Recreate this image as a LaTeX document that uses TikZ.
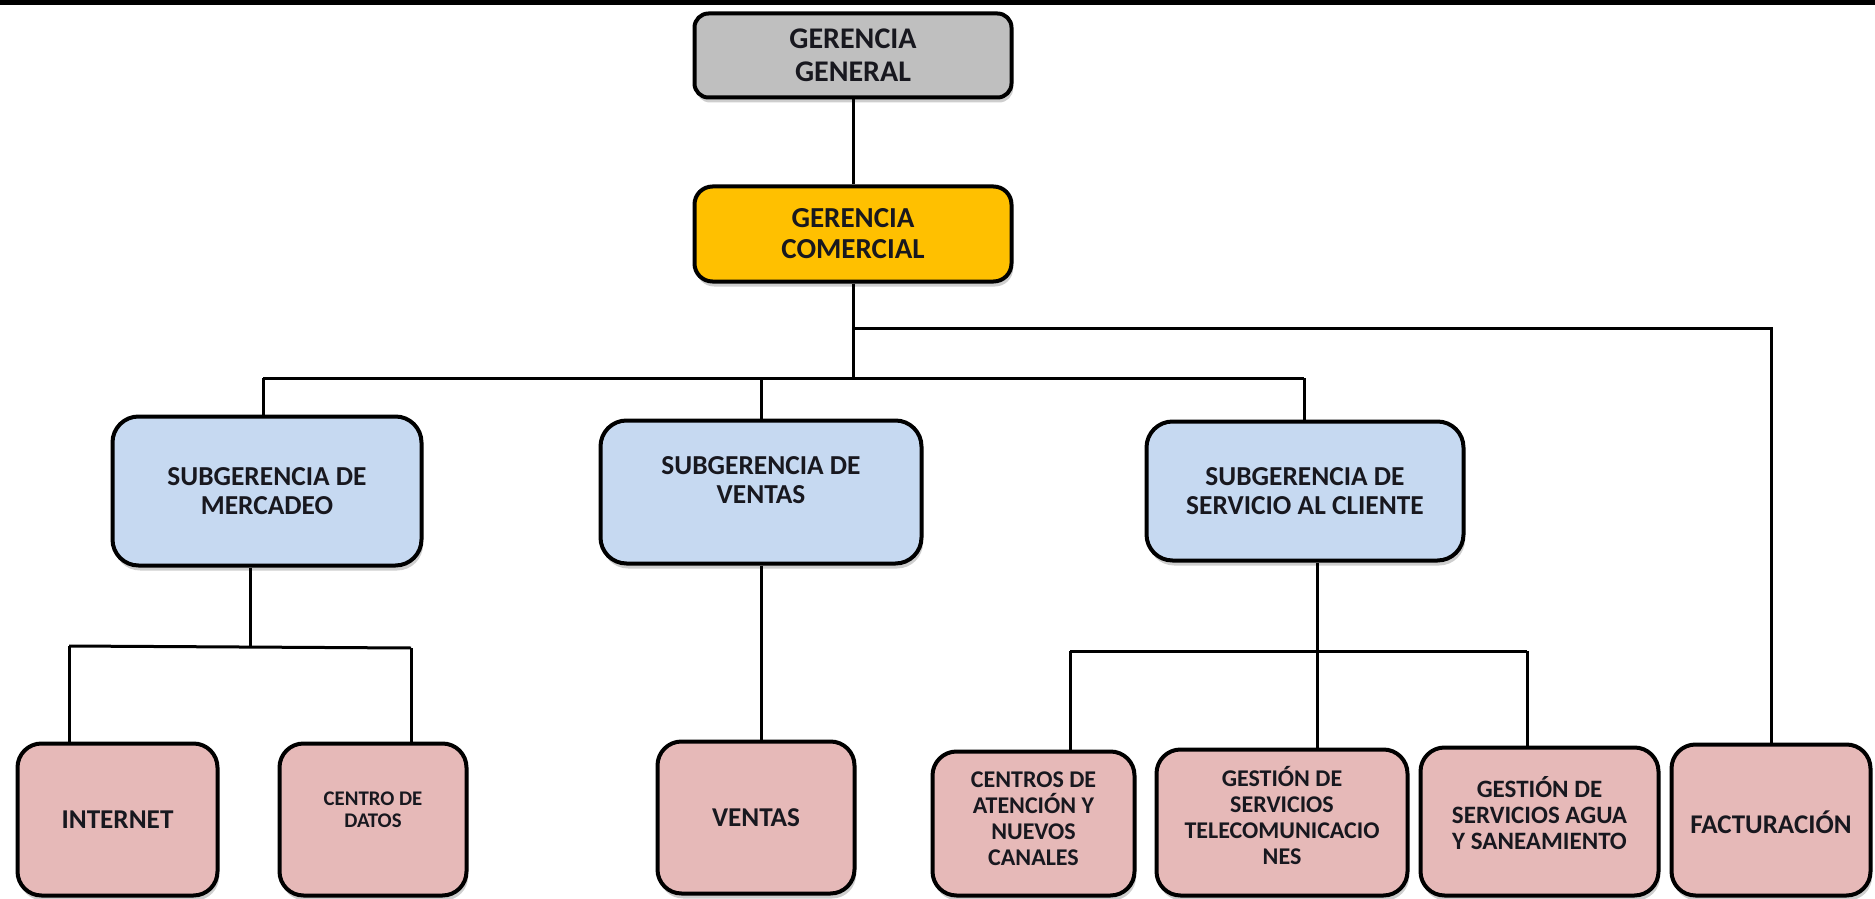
\documentclass[tikz,border=0pt]{standalone}
\usepackage{fontspec}
\setmainfont{Carlito}
\usetikzlibrary{shadows}
\definecolor{ggray}{HTML}{BFBFBF}
\definecolor{gyellow}{HTML}{FFC000}
\definecolor{gblue}{HTML}{C6D9F1}
\definecolor{gpink}{HTML}{E6B9B8}
\definecolor{ink}{HTML}{18181F}
\newcommand\fGG{\bfseries\fontsize{15}{16.5}\selectfont}
\newcommand\fGC{\bfseries\fontsize{14.5}{15.5}\selectfont}
\newcommand\fSub{\bfseries\fontsize{13.7}{14.8}\selectfont}
\newcommand\fBig{\bfseries\fontsize{13.6}{14}\selectfont}
\newcommand\fMid{\bfseries\fontsize{12}{13}\selectfont}
\newcommand\fAgua{\bfseries\fontsize{12.5}{13}\selectfont}
\newcommand\fFac{\bfseries\fontsize{13.5}{14}\selectfont}
\newcommand\fSml{\bfseries\fontsize{10.4}{11}\selectfont}
\begin{document}
\begin{tikzpicture}[x=0.5pt,y=-0.5pt,
  orgbox/.style={draw=black, line width=2pt, rounded corners=#1, inner sep=0pt,
    drop shadow={shadow xshift=0.8pt, shadow yshift=-2.5pt, opacity=0.35, fill=black!55}},
  sz/.style 2 args={minimum width=#1*0.5pt, minimum height=#2*0.5pt},
  lbl/.style={align=center, text=ink, inner sep=0pt},
  conn/.style={draw=black, line width=1.5pt},
]
\useasboundingbox (0,0) rectangle (1875,899);
\fill[black] (0,0) rectangle (1875,5);

% top level
\node[orgbox=7pt, fill=ggray, sz={317}{84},
  label={[lbl,font=\fGG]center:{GERENCIA\\GENERAL}}] (gg) at (853,55.5) {};
\node[orgbox=9pt, fill=gyellow, sz={317}{95},
  label={[lbl,font=\fGC]center:{GERENCIA\\COMERCIAL}}] (gc) at (853,234) {};

% subgerencias
\node[orgbox=13pt, fill=gblue, sz={309}{149},
  label={[lbl,font=\fSub]center:{SUBGERENCIA DE\\MERCADEO}}] (subm) at (267,491) {};
\node[orgbox=13pt, fill=gblue, sz={321}{143},
  label={[lbl,font=\fSub,yshift=6pt]center:{SUBGERENCIA DE\\VENTAS}}] (subv) at (761,492) {};
\node[orgbox=13pt, fill=gblue, sz={317}{139},
  label={[lbl,font=\fSub]center:{SUBGERENCIA DE\\SERVICIO AL CLIENTE}}] (subs) at (1305,491) {};

% bottom row
\node[orgbox=12pt, fill=gpink, sz={200}{152},
  label={[lbl,font=\fBig]center:{INTERNET}}] (inet) at (117.5,819.5) {};
\node[orgbox=12pt, fill=gpink, sz={187}{152},
  label={[lbl,font=\fSml,yshift=4.75pt]center:{CENTRO DE\\DATOS}}] (cdd) at (373,819.5) {};
\node[orgbox=12pt, fill=gpink, sz={197}{152},
  label={[lbl,font=\fBig]center:{VENTAS}}] (ventas) at (756,817.5) {};
\node[orgbox=12pt, fill=gpink, sz={202}{144},
  label={[lbl,font=\fMid,yshift=2.25pt]center:{CENTROS DE\\ATENCIÓN Y\\NUEVOS\\CANALES}}] (cen) at (1033.5,823.5) {};
\node[orgbox=12pt, fill=gpink, sz={251}{146},
  label={[lbl,font=\fMid,yshift=3.75pt]center:{GESTIÓN DE\\SERVICIOS\\TELECOMUNICACIO\\NES}}] (tel) at (1282,822.5) {};
\node[orgbox=12pt, fill=gpink, sz={238}{148},
  label={[lbl,font=\fAgua,yshift=4.25pt]center:{GESTIÓN DE\\SERVICIOS AGUA\\Y SANEAMIENTO}}] (agua) at (1539.5,821.5) {};
\node[orgbox=12pt, fill=gpink, sz={199}{151},
  label={[lbl,font=\fFac,yshift=-1pt]center:{FACTURACIÓN}}] (fact) at (1771,820) {};

% connector helper points
\coordinate (busL) at (263,378);
\coordinate (busR) at (1304,378);
\coordinate (brY) at (0,328);
\coordinate (mdrop) at (250,647);
\coordinate (mbL) at (69,646);
\coordinate (mbR) at (411,648);
\coordinate (sdrop) at (1317,651);
\coordinate (sbL) at (1070,651);
\coordinate (sbR) at (1527,651);

% connectors
\draw[conn] (gg.south) -- (gc.north);
\draw[conn] (gc.south) -- (gc.south |- busL);
\draw[conn] (busL) -- (busR);
\draw[conn] (gc.south |- brY) -- (fact.north |- brY) -- (fact.north);
\draw[conn] (busL) -- (busL |- subm.north);
\draw[conn] (subv.north |- busL) -- (subv.north);
\draw[conn] (busR) -- (busR |- subs.north);

\draw[conn] (mdrop |- subm.south) -- (mdrop);
\draw[conn] (mbL) -- (mbR);
\draw[conn] (mbL) -- (mbL |- inet.north);
\draw[conn] (mbR) -- (mbR |- cdd.north);

\draw[conn] (subv.south) -- (subv.south |- ventas.north);

\draw[conn] (sdrop |- subs.south) -- (sdrop |- tel.north);
\draw[conn] (sbL) -- (sbR);
\draw[conn] (sbL) -- (sbL |- cen.north);
\draw[conn] (sbR) -- (sbR |- agua.north);
\end{tikzpicture}
\end{document}
